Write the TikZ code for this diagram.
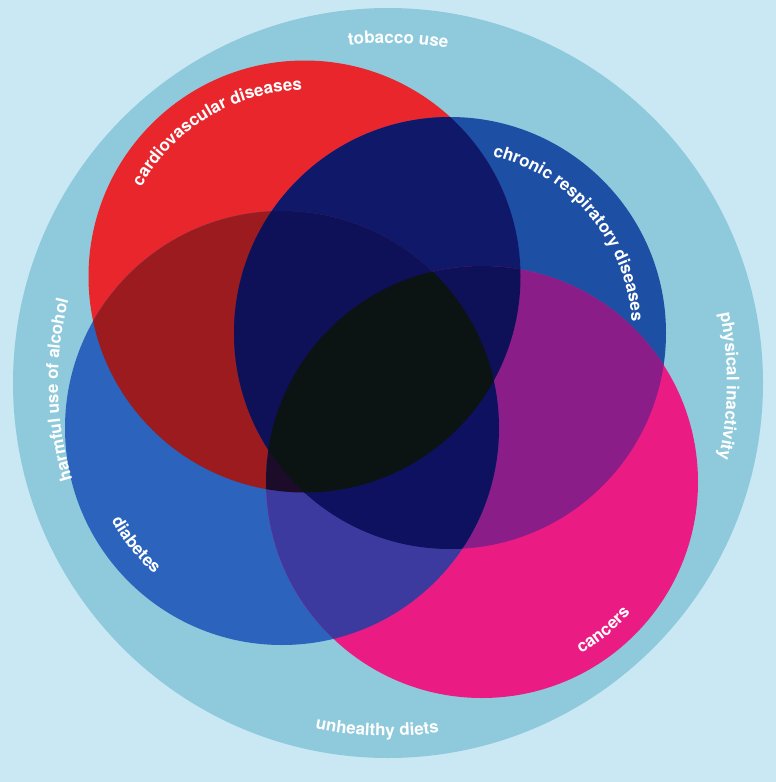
\documentclass[tikz,border=0pt]{standalone}
\usepackage{fontspec}
\setmainfont{TeX Gyre Heros}
\usetikzlibrary{decorations.text}
\definecolor{bgc}{HTML}{CAE8F4}
\definecolor{ringc}{HTML}{8ECADB}
\definecolor{colR}{HTML}{E8262B}
\definecolor{colC}{HTML}{1D4FA5}
\definecolor{colD}{HTML}{2B63BD}
\definecolor{colK}{HTML}{EA1C84}
\definecolor{colRC}{HTML}{10186A}
\definecolor{colRD}{HTML}{9C1B1E}
\definecolor{colRK}{HTML}{6A1030}
\definecolor{colCD}{HTML}{1A2A80}
\definecolor{colCK}{HTML}{8B1D88}
\definecolor{colDK}{HTML}{3C3A9E}
\definecolor{colRCD}{HTML}{0E1158}
\definecolor{colRCK}{HTML}{0E1158}
\definecolor{colRDK}{HTML}{1C0C2A}
\definecolor{colCDK}{HTML}{0D1160}
\definecolor{colAll}{HTML}{0B1412}
\newcommand\cirR{(cR) circle[radius=216pt]}
\newcommand\cirC{(cC) circle[radius=216pt]}
\newcommand\cirD{(cD) circle[radius=217pt]}
\newcommand\cirK{(cK) circle[radius=216pt]}
\newcommand\lblfont{\fontsize{17}{20}\selectfont\bfseries\color{white}}
\tikzset{lbl/.style={decorate, decoration={text along path, text align=center, text={|\lblfont|#1}}}}
\begin{document}
\begin{tikzpicture}[x=1pt,y=1pt]
\useasboundingbox (0,0) rectangle (776,-782);
\fill[bgc] (0,0) rectangle (776,-782);
\coordinate (cO) at (388,-383);
\coordinate (cR) at (304.5,-276.5);
\coordinate (cC) at (450,-333);
\coordinate (cD) at (282,-428);
\coordinate (cK) at (482,-482);
\fill[ringc] (cO) circle[radius=375pt];
% single circles
\fill[colR] \cirR;
\fill[colC] \cirC;
\fill[colD] \cirD;
\fill[colK] \cirK;
% pairs
\begin{scope}\clip \cirR; \fill[colRC] \cirC; \end{scope}
\begin{scope}\clip \cirR; \fill[colRD] \cirD; \end{scope}
\begin{scope}\clip \cirR; \fill[colRK] \cirK; \end{scope}
\begin{scope}\clip \cirC; \fill[colCD] \cirD; \end{scope}
\begin{scope}\clip \cirC; \fill[colCK] \cirK; \end{scope}
\begin{scope}\clip \cirD; \fill[colDK] \cirK; \end{scope}
% triples
\begin{scope}\clip \cirR; \clip \cirC; \fill[colRCD] \cirD; \end{scope}
\begin{scope}\clip \cirR; \clip \cirC; \fill[colRCK] \cirK; \end{scope}
\begin{scope}\clip \cirR; \clip \cirD; \fill[colRDK] \cirK; \end{scope}
\begin{scope}\clip \cirC; \clip \cirD; \fill[colCDK] \cirK; \end{scope}
% all four
\begin{scope}\clip \cirR; \clip \cirC; \clip \cirD; \fill[colAll] \cirK; \end{scope}
% labels
\path[lbl={tobacco use}] (cO) ++(128.3:340pt) arc[start angle=128.3, end angle=48.3, radius=340pt];
\path[lbl={unhealthy diets}] (cO) ++(-131.8:353pt) arc[start angle=-131.8, end angle=-51.8, radius=353pt];
\path[lbl={harmful use of alcohol}] (cO) ++(231.2:330pt) arc[start angle=231.2, end angle=131.2, radius=330pt];
\path[lbl={physical inactivity}] (cO) ++(49.5:339pt) arc[start angle=49.5, end angle=-50.5, radius=339pt];
\path[lbl={cardiovascular diseases}] (cR) ++(171:186pt) arc[start angle=171, end angle=71, radius=186pt];
\path[lbl={chronic respiratory diseases}] (cC) ++(95:182pt) arc[start angle=95, end angle=-15, radius=182pt];
\path[lbl={diabetes}] (cD) ++(178.7:194pt) arc[start angle=178.7, end angle=258.7, radius=194pt];
\path[lbl={cancers}] (cK) ++(-90.7:198pt) arc[start angle=-90.7, end angle=-10.7, radius=198pt];
\end{tikzpicture}
\end{document}
